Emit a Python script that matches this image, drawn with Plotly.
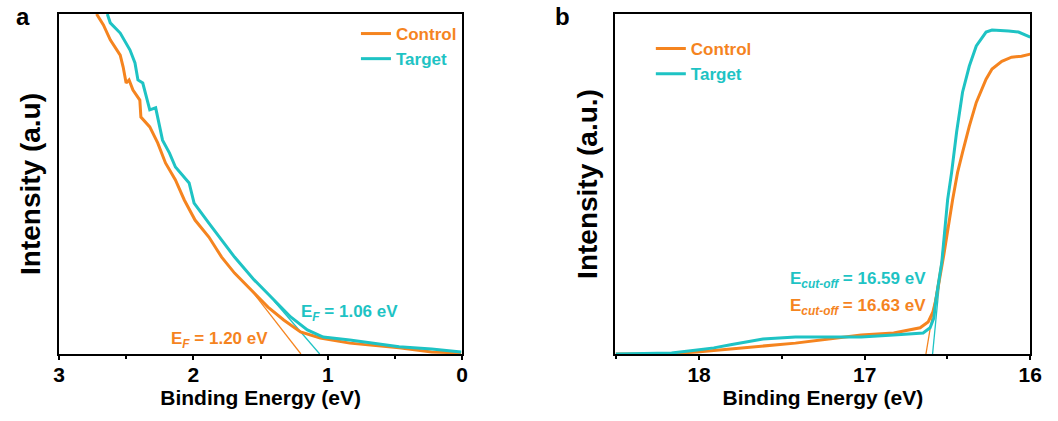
import plotly.graph_objects as go

ORANGE = "#F5841F"
TEAL = "#1EC3C4"

# Panel a: valence band edge region
a_ctrl_E = [2.721, 2.670, 2.619, 2.545, 2.523, 2.501, 2.479, 2.450, 2.399, 2.391, 2.325, 2.266,
            2.208, 2.134, 2.068, 1.988, 1.885, 1.790, 1.694, 1.570, 1.445, 1.328, 1.203, 1.056,
            0.836, 0.469, 0.227, 0.007]
a_ctrl_I = [1.000, 0.968, 0.924, 0.879, 0.844, 0.797, 0.806, 0.776, 0.747, 0.697, 0.668, 0.621,
            0.562, 0.512, 0.453, 0.394, 0.344, 0.285, 0.238, 0.188, 0.138, 0.100, 0.065, 0.047,
            0.032, 0.018, 0.006, 0.003]
a_tgt_E = [2.641, 2.619, 2.545, 2.472, 2.435, 2.413, 2.377, 2.325, 2.281, 2.230, 2.178, 2.134,
           2.032, 1.995, 1.885, 1.790, 1.694, 1.548, 1.401, 1.276, 1.152, 1.034, 0.836, 0.469,
           0.227, 0.007]
a_tgt_I = [1.000, 0.974, 0.944, 0.894, 0.856, 0.806, 0.797, 0.718, 0.724, 0.629, 0.591, 0.550,
           0.503, 0.444, 0.385, 0.335, 0.285, 0.218, 0.159, 0.109, 0.071, 0.050, 0.041, 0.021,
           0.015, 0.006]
a_ctrl_fit_E = [1.57, 1.20]
a_ctrl_fit_I = [0.188, 0.0]
a_tgt_fit_E = [1.40, 1.06]
a_tgt_fit_I = [0.156, 0.0]

# Panel b: secondary electron cut-off
b_ctrl_E = [18.504, 18.208, 18.012, 17.810, 17.614, 17.418, 17.217, 17.021, 16.825, 16.665,
            16.617, 16.588, 16.570, 16.522, 16.469, 16.439, 16.409, 16.368, 16.326, 16.267,
            16.231, 16.172, 16.113, 16.053, 16.000]
b_ctrl_I = [0.000, 0.000, 0.006, 0.015, 0.024, 0.032, 0.044, 0.056, 0.062, 0.077,
            0.094, 0.124, 0.159, 0.292, 0.454, 0.534, 0.593, 0.670, 0.740, 0.808,
            0.838, 0.861, 0.873, 0.876, 0.882]
b_tgt_E = [18.504, 18.166, 18.012, 17.911, 17.810, 17.614, 17.418, 17.217, 17.021, 16.825,
           16.647, 16.605, 16.582, 16.570, 16.534, 16.499, 16.475, 16.445, 16.409, 16.368,
           16.326, 16.267, 16.231, 16.131, 16.071, 16.000]
b_tgt_I = [0.000, 0.003, 0.012, 0.018, 0.027, 0.044, 0.050, 0.050, 0.050, 0.056,
           0.062, 0.077, 0.106, 0.159, 0.271, 0.454, 0.534, 0.652, 0.770, 0.847,
           0.906, 0.947, 0.953, 0.950, 0.947, 0.932]
b_ctrl_fit_E = [16.63, 16.50]
b_ctrl_fit_I = [0.0, 0.38]
b_tgt_fit_E = [16.59, 16.51]
b_tgt_fit_I = [0.0, 0.40]

FONT = "Liberation Sans"

fig = go.Figure()

def col(name, c):
    return "<b><span style='color:%s'>%s</span></b>" % (c, name)

# panel a
fig.add_trace(go.Scatter(x=a_ctrl_fit_E, y=a_ctrl_fit_I, mode="lines", line=dict(color=ORANGE, width=1.3),
                         showlegend=False, xaxis="x", yaxis="y"))
fig.add_trace(go.Scatter(x=a_tgt_fit_E, y=a_tgt_fit_I, mode="lines", line=dict(color=TEAL, width=1.3),
                         showlegend=False, xaxis="x", yaxis="y"))
fig.add_trace(go.Scatter(x=a_ctrl_E, y=a_ctrl_I, mode="lines", name=col("Control", ORANGE),
                         line=dict(color=ORANGE, width=3), legend="legend", xaxis="x", yaxis="y"))
fig.add_trace(go.Scatter(x=a_tgt_E, y=a_tgt_I, mode="lines", name=col("Target", TEAL),
                         line=dict(color=TEAL, width=3), legend="legend", xaxis="x", yaxis="y"))
# panel b
fig.add_trace(go.Scatter(x=b_ctrl_fit_E, y=b_ctrl_fit_I, mode="lines", line=dict(color=ORANGE, width=1.3),
                         showlegend=False, xaxis="x2", yaxis="y2"))
fig.add_trace(go.Scatter(x=b_tgt_fit_E, y=b_tgt_fit_I, mode="lines", line=dict(color=TEAL, width=1.3),
                         showlegend=False, xaxis="x2", yaxis="y2"))
fig.add_trace(go.Scatter(x=b_ctrl_E, y=b_ctrl_I, mode="lines", name=col("Control", ORANGE),
                         line=dict(color=ORANGE, width=3), legend="legend2", xaxis="x2", yaxis="y2"))
fig.add_trace(go.Scatter(x=b_tgt_E, y=b_tgt_I, mode="lines", name=col("Target", TEAL),
                         line=dict(color=TEAL, width=3), legend="legend2", xaxis="x2", yaxis="y2"))

W, H = 1058, 421
ydom = [1 - 354 / H, 1 - 14 / H]

xcommon = dict(showline=True, linecolor="black", linewidth=2, mirror=True, showgrid=False, zeroline=False,
               ticks="outside", ticklen=4, tickwidth=2, tickcolor="black", dtick=1, ticklabelstandoff=-3,
               minor=dict(dtick=0.5, ticks="outside", ticklen=3, tickwidth=2, tickcolor="black"),
               tickfont=dict(family=FONT, size=21, color="black"),
               title=dict(text="<b>Binding Energy (eV)</b>", font=dict(family=FONT, size=21, color="black"), standoff=0))
ycommon = dict(showline=True, linecolor="black", linewidth=2, mirror=True, showgrid=False, zeroline=False,
               showticklabels=False, ticks="", range=[0, 1], domain=ydom)

fig.update_layout(
    width=W, height=H, margin=dict(l=0, r=0, t=0, b=0),
    paper_bgcolor="white", plot_bgcolor="white",
    font=dict(family=FONT, color="black"),
    xaxis=dict(**xcommon, domain=[54 / W, 464 / W], range=[3, 0], anchor="y", tickvals=[3, 2, 1, 0],
               ticktext=["<b>3</b>", "<b>2</b>", "<b>1</b>", "<b>0</b>"]),
    yaxis=dict(**ycommon, anchor="x",
               title=dict(text="<b>Intensity (a.u)</b>", font=dict(family=FONT, size=28, color="black"), standoff=8)),
    xaxis2=dict(**xcommon, domain=[620 / W, 1042 / W], range=[18.505, 16], anchor="y2", tickvals=[18, 17, 16],
                ticktext=["<b>18</b>", "<b>17</b>", "<b>16</b>"]),
    yaxis2=dict(**ycommon, anchor="x2",
                title=dict(text="<b>Intensity (a.u.)</b>", font=dict(family=FONT, size=28, color="black"), standoff=8)),
    legend=dict(x=356 / W, y=1 - 16 / H, xanchor="left", yanchor="top", bgcolor="rgba(0,0,0,0)",
                font=dict(family=FONT, size=17), tracegroupgap=0, itemwidth=30),
    legend2=dict(x=656 / W, y=1 - 31 / H, xanchor="left", yanchor="top", bgcolor="rgba(0,0,0,0)",
                 font=dict(family=FONT, size=17), tracegroupgap=0, itemwidth=30),
    showlegend=True,
)

ann_font = dict(family=FONT, size=17)
fig.add_annotation(x=1.804, y=0.041, xref="x", yref="y", showarrow=False,
                   text="<b>E<sub><i>F</i></sub> = 1.20 eV</b>", font=dict(**ann_font, color=ORANGE))
fig.add_annotation(x=0.836, y=0.121, xref="x", yref="y", showarrow=False,
                   text="<b>E<sub><i>F</i></sub> = 1.06 eV</b>", font=dict(**ann_font, color=TEAL))
fig.add_annotation(x=17.039, y=0.218, xref="x2", yref="y2", showarrow=False,
                   text="<b>E<sub><i>cut-off</i></sub> = 16.59 eV</b>", font=dict(**ann_font, color=TEAL))
fig.add_annotation(x=17.039, y=0.139, xref="x2", yref="y2", showarrow=False,
                   text="<b>E<sub><i>cut-off</i></sub> = 16.63 eV</b>", font=dict(**ann_font, color=ORANGE))
# panel labels
fig.add_annotation(x=17 / W, y=1 - 16 / H, xref="paper", yref="paper", showarrow=False,
                   xanchor="center", yanchor="middle",
                   text="<b>a</b>", font=dict(family=FONT, size=24, color="black"))
fig.add_annotation(x=566 / W, y=1 - 16 / H, xref="paper", yref="paper", showarrow=False,
                   xanchor="center", yanchor="middle",
                   text="<b>b</b>", font=dict(family=FONT, size=24, color="black"))

fig.write_html("out.html")
